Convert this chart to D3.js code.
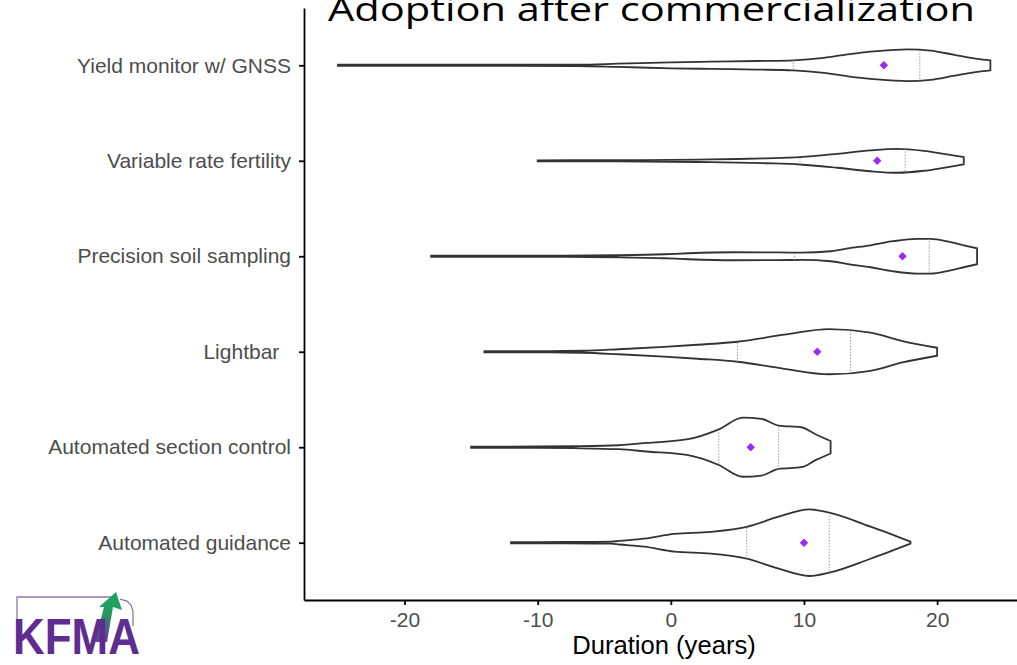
<!DOCTYPE html>
<html>
<meta charset="utf-8">
<title>Adoption after commercialization</title>
<script src="https://d3js.org/d3.v7.min.js" charset="utf-8"></script>

<style>
	body {
		margin: 0;
		background: #fff;
	}
	.axis text {
		fill: #4d4d4d;
		font-family: "Liberation Sans", Arial, sans-serif;
		font-size: 21px;
		white-space: pre;
	}
	.axis path, .axis line {
		stroke: #000;
		stroke-width: 1.8;
	}
	.violin {
		fill: #fff;
		stroke: #333;
		stroke-width: 1.8;
	}
	.qline {
		stroke: #9a9a9a;
		stroke-width: 1;
		stroke-dasharray: 1.5,1.5;
	}
	.mean {
		fill: #9a2cf0;
	}
</style>
<body>
<script>

	// categories, top to bottom
	var categories = ["Yield monitor w/ GNSS", "Variable rate fertility", "Precision soil sampling",
		"Lightbar  ", "Automated section control", "Automated guidance"];

	// density profile of each violin (years, density)
	var gnssX = [-25, -15, -7, -4, 0, 3, 6.5, 9.2, 11.5, 13.3, 15.5, 17.8, 19.5, 21.2, 23, 24];
	var gnssD = [0.0015, 0.0015, 0.0017, 0.0038, 0.0072, 0.0087, 0.0103, 0.0120, 0.0180, 0.0264, 0.0340, 0.0380, 0.0350, 0.0257, 0.0156, 0.0120];

	var vrfX = [-10, -5, -2, 2, 5, 7.2, 9.7, 12.5, 15, 17, 19, 20.5, 22];
	var vrfD = [0.0012, 0.0014, 0.0017, 0.0029, 0.0043, 0.0060, 0.0089, 0.0168, 0.0252, 0.0288, 0.0240, 0.0168, 0.0089];

	var soilX = [-18, -8, -4, -0.5, 1.3, 4.7, 8, 9.8, 12, 13.3, 15, 16.7, 18.5, 19.5, 21, 22, 23];
	var soilD = [0.0012, 0.0014, 0.0024, 0.0048, 0.0072, 0.0096, 0.0091, 0.0089, 0.0120, 0.0188, 0.0264, 0.0361, 0.0416, 0.0416, 0.0337, 0.0264, 0.0192];

	var lightX = [-14, -9, -6.6, -3.9, -0.5, 2, 5, 8.5, 11.9, 15, 17.4, 20];
	var lightD = [0.0014, 0.0017, 0.0024, 0.0060, 0.0115, 0.0168, 0.0240, 0.0409, 0.0541, 0.0457, 0.0257, 0.0096];

	var sectionX = [-15, -10, -7.3, -3.9, -1.8, 1.3, 3.6, 5.4, 6.8, 8.1, 9.8, 10.9, 12];
	var sectionD = [0.0014, 0.0017, 0.0024, 0.0048, 0.0103, 0.0192, 0.0428, 0.0709, 0.0680, 0.0520, 0.0480, 0.0305, 0.0150];

	var guideX = [-12, -8, -4.5, -3.9, -2, 0.25, 3, 5.7, 8.1, 10.4, 11.9, 15, 18];
	var guideD = [0.0014, 0.0017, 0.0024, 0.0043, 0.0096, 0.0212, 0.0260, 0.0380, 0.0625, 0.0800, 0.0721, 0.0385, 0.0024];

	var means = [16.0, 15.5, 17.4, 11.0, 6.0, 10.0];
	var lowerQ = [9.2, 9.7, 9.3, 5.0, 3.6, 5.7];
	var upperQ = [18.7, 17.6, 19.4, 13.5, 8.1, 11.9];

	var xTicks = [-20, -10, 0, 10, 20];

	var grids = [gnssX, vrfX, soilX, lightX, sectionX, guideX];
	var dens = [gnssD, vrfD, soilD, lightD, sectionD, guideD];

	var violins = categories.map(function(c, i) {
		return {
			name: c,
			points: grids[i].map(function(v, j) { return [v, dens[i][j]]; }),
			mean: means[i], q1: lowerQ[i], q3: upperQ[i]
		};
	});

	var width = 1017, height = 665;
	var panel = {left: 304, right: 1023, top: 8, bottom: 600};

	var x = d3.scaleLinear().domain([-27.55, 26.45]).range([panel.left, panel.right]);
	var y = d3.scalePoint().domain(categories).range([panel.top, panel.bottom]).padding(0.6);
	var w = d3.scaleLinear().domain([0, 0.08]).range([0, 33.3]);

	var svg = d3.select("body").append("svg")
		.attr("width", width)
		.attr("height", height);

	var defs = svg.append("defs");

	/* title, its top is cut off in the original */
	svg.append("text")
		.attr("x", 328)
		.attr("y", 21)
		.attr("textLength", 647)
		.attr("lengthAdjust", "spacingAndGlyphs")
		.style("font-family", "'Open Sans', sans-serif")
		.style("font-size", "33px")
		.style("fill", "#000")
		.text("Adoption after commercialization");

	/* violins */
	var g = svg.selectAll(".vio")
		.data(violins)
		.enter().append("g")
		.attr("class", "vio");

	function violinPath(d) {
		var yc = y(d.name);
		return d3.area()
			.curve(d3.curveMonotoneX)
			.x(function(p) { return x(p[0]); })
			.y0(function(p) { return yc + w(p[1]); })
			.y1(function(p) { return yc - w(p[1]); })(d.points);
	}

	defs.selectAll("clipPath")
		.data(violins)
		.enter().append("clipPath")
		.attr("id", function(d, i) { return "clip" + i; })
		.append("path")
		.attr("d", violinPath);

	g.append("path")
		.attr("class", "violin")
		.attr("d", violinPath);

	g.selectAll(".qline")
		.data(function(d, i) { return [{v: d.q1, d: d, i: i}, {v: d.q3, d: d, i: i}]; })
		.enter().append("line")
		.attr("class", "qline")
		.attr("clip-path", function(q) { return "url(#clip" + q.i + ")"; })
		.attr("x1", function(q) { return x(q.v); })
		.attr("x2", function(q) { return x(q.v); })
		.attr("y1", function(q) { return y(q.d.name) - 45; })
		.attr("y2", function(q) { return y(q.d.name) + 45; });

	g.append("path")
		.attr("class", "mean")
		.attr("d", d3.symbol().type(d3.symbolSquare).size(36))
		.attr("transform", function(d) { return "translate(" + x(d.mean) + "," + y(d.name) + ")rotate(45)"; });

	/* axes */
	svg.append("g")
		.attr("class", "axis")
		.attr("transform", "translate(0," + panel.bottom + ")")
		.call(d3.axisBottom(x).tickValues(xTicks).tickFormat(function(d) { return String(d); })
			.tickSize(5).tickSizeOuter(0).tickPadding(7));

	svg.append("g")
		.attr("class", "axis")
		.attr("transform", "translate(" + panel.left + ",0)")
		.call(d3.axisLeft(y).tickSize(5).tickSizeOuter(0).tickPadding(8));

	svg.append("text")
		.attr("x", 664)
		.attr("y", 654)
		.attr("text-anchor", "middle")
		.style("font-family", "'Liberation Sans', Arial, sans-serif")
		.style("font-size", "25.6px")
		.style("fill", "#000")
		.text("Duration (years)");

	/* KFMA logo, bottom left */
	var logo = svg.append("g").attr("class", "logo");

	var grad = defs.append("linearGradient")
		.attr("id", "arrowGrad")
		.attr("x1", 0).attr("y1", 1).attr("x2", 0).attr("y2", 0);
	grad.append("stop").attr("offset", "0%").attr("stop-color", "#6a3a9c");
	grad.append("stop").attr("offset", "60%").attr("stop-color", "#1f9d5c");
	grad.append("stop").attr("offset", "100%").attr("stop-color", "#1fa463");

	logo.append("path")
		.attr("d", "M17,630V597H111M120,599L127,601L131,605L133,611V626")
		.attr("fill", "none")
		.attr("stroke", "#8e7aa6")
		.attr("stroke-width", 1.3);

	logo.append("path")
		.attr("d", "M95,642L104,607L99,607L116,592L122,610L113,607L107,642Z")
		.attr("fill", "url(#arrowGrad)");

	logo.append("text")
		.attr("x", 13)
		.attr("y", 654)
		.attr("textLength", 127)
		.attr("lengthAdjust", "spacingAndGlyphs")
		.style("font-family", "'Liberation Sans', Arial, sans-serif")
		.style("font-weight", "bold")
		.style("font-size", "50px")
		.style("fill", "#5f2d91")
		.text("KFMA");

</script>
</body>
</html>
